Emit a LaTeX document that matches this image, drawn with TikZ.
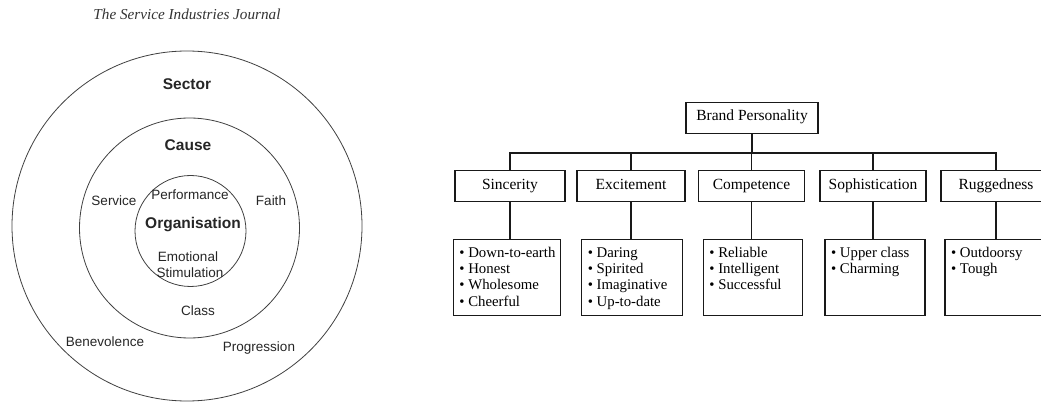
\documentclass[tikz,border=0pt]{standalone}
\usepackage{fontspec}
\setmainfont{Liberation Serif}
\newfontfamily\arialf{Liberation Sans}
\usetikzlibrary{calc}
\begin{document}
\begin{tikzpicture}[x=1pt,y=-1pt,
  ring/.style={draw=black!75, line width=0.8pt, circle, inner sep=0pt},
  lab/.style={font=\arialf\fontsize{13.5}{16}\selectfont, text height=1.5ex, text depth=.25ex, inner sep=0pt, text=black!85},
  blab/.style={lab, font=\arialf\bfseries\fontsize{15.5}{18}\selectfont},
  hbox/.style={draw=black!90, line width=1.2pt, minimum height=31pt, inner sep=0pt, font=\fontsize{15.5}{18}\selectfont, text height=1.5ex, text depth=.25ex},
  lbox/.style={draw=black!90, line width=1.2pt, minimum height=75.5pt, anchor=north, inner sep=0pt},
  ltext/.style={anchor=north west, inner sep=0pt, align=left, font=\fontsize{14.8}{16.2}\selectfont},
  conn/.style={line width=1.2pt, draw=black!90}
]
\path[use as bounding box, clip] (0,0) rectangle (1041,403);

% title
\node[font=\itshape\fontsize{15.2}{17}\selectfont, text=black!80, text height=1.5ex, text depth=.25ex, inner sep=0pt] (title) at (187,16.5) {The Service Industries Journal};

% circles
\node[ring, minimum size=350pt] (outer) at (187,226) {};
\node[ring, minimum size=220pt] (mid) at (189.5,228) {};
\node[ring, minimum size=111pt] (inner) at (190.5,231) {};

\node[blab] (sector) at (187,87) {Sector};
\node[blab] (cause) at (188,148) {Cause};
\node[blab] (org) at (193,226) {Organisation};
\node[lab] (service) at (114,203) {Service};
\node[lab] (perf) at (190,197) {Performance};
\node[lab] (faith) at (271,203) {Faith};
\node[lab] (emo) at (188,259) {Emotional};
\node[lab] (stim) at (190,275) {Stimulation};
\node[lab] (class) at (198,313) {Class};
\node[lab] (benev) at (105,344) {Benevolence};
\node[lab] (prog) at (259,349) {Progression};

% tree
\node[hbox, minimum width=132pt] (bp) at (752,118) {Brand Personality};
\node[hbox, minimum width=110pt] (sin) at (510,186.2) {Sincerity};
\node[hbox, minimum width=108pt] (exc) at (631,186.2) {Excitement};
\node[hbox, minimum width=106pt] (com) at (751.5,186.2) {Competence};
\node[hbox, minimum width=106pt] (sop) at (873,186.2) {Sophistication};
\node[hbox, minimum width=110pt] (rug) at (996,186.2) {Ruggedness};

\node[lbox, minimum width=107.4pt] (sl) at (507,239.3) {};
\node[lbox, minimum width=100.6pt] (el) at (632,239.3) {};
\node[lbox, minimum width=99.4pt] (cl) at (753,239.3) {};
\node[lbox, minimum width=100pt] (ol) at (875,239.3) {};
\node[lbox, minimum width=102pt] (rl) at (996,239.3) {};

\node[ltext] (slt) at ($(sl.north west)+(6.5,6.7)$) {\begin{tabular}{@{}l@{}}• Down-to-earth\\• Honest\\• Wholesome\\• Cheerful\end{tabular}};
\node[ltext] (elt) at ($(el.north west)+(6.5,6.7)$) {\begin{tabular}{@{}l@{}}• Daring\\• Spirited\\• Imaginative\\• Up-to-date\end{tabular}};
\node[ltext] (clt) at ($(cl.north west)+(6.5,6.7)$) {\begin{tabular}{@{}l@{}}• Reliable\\• Intelligent\\• Successful\end{tabular}};
\node[ltext] (olt) at ($(ol.north west)+(6.5,6.7)$) {\begin{tabular}{@{}l@{}}• Upper class\\• Charming\end{tabular}};
\node[ltext] (rlt) at ($(rl.north west)+(6.5,6.7)$) {\begin{tabular}{@{}l@{}}• Outdoorsy\\• Tough\end{tabular}};

\coordinate (bar) at (0,153);
\draw[conn] (bp.south) -- (bp.south |- bar);
\draw[conn] (sin.north) -- (sin.north |- bar) -- (rug.north |- bar) -- (rug.north);
\foreach \n in {exc,com,sop} \draw[conn] (\n.north) -- (\n.north |- bar);
\foreach \a/\b in {sin/sl,exc/el,com/cl,sop/ol,rug/rl} \draw[conn] (\a.south) -- (\a.south |- \b.north);
\end{tikzpicture}
\end{document}
